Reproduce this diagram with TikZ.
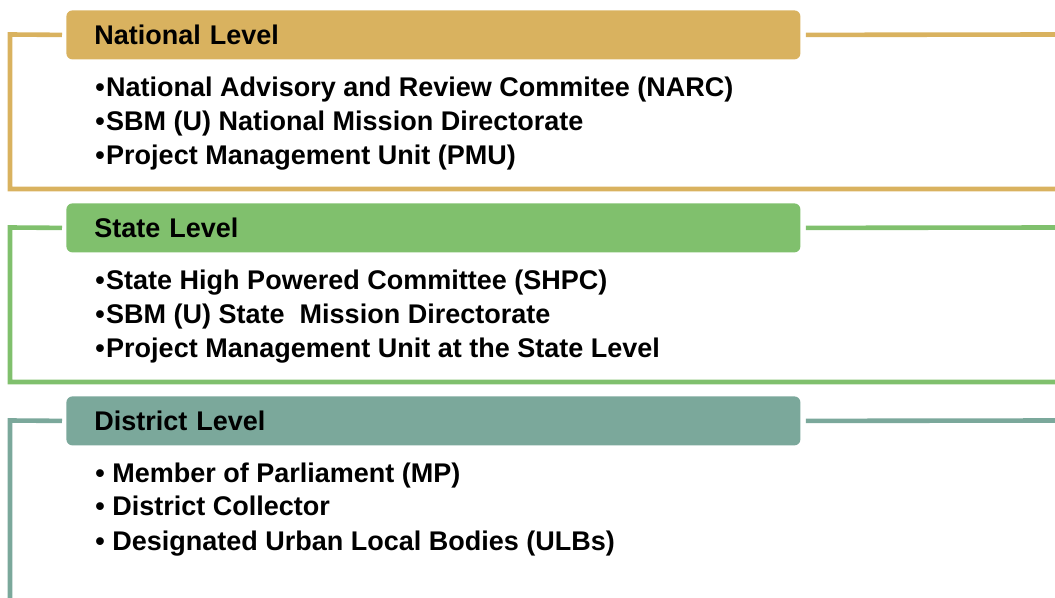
\documentclass[tikz,border=0pt]{standalone}
\usepackage{fontspec}
\setmainfont{Liberation Sans}
\usetikzlibrary{positioning}
\definecolor{natgold}{HTML}{D9B25F}
\definecolor{stgreen}{HTML}{80C06D}
\definecolor{distteal}{HTML}{7BA89B}

\begin{document}
\begin{tikzpicture}[x=0.5pt, y=-0.5pt,
    level/.style={rectangle, rounded corners=3pt, anchor=north west, minimum height=24.5pt, inner xsep=14pt, text width=339pt, align=left, font=\bfseries\fontsize{13.5}{16}\selectfont},
    item/.style={anchor=base west, inner sep=0pt, font=\bfseries\fontsize{13.5}{16}\selectfont},
    bracket/.style={line width=2.3pt}
]
    \useasboundingbox (0,0) rectangle (1055,598);

    % National level
    \node[level, fill=natgold] (natH) at (66,10) {National Level};
    \node[item] (nat1) at (95,97) {•\kern0.7pt National Advisory and Review Commitee (NARC)};
    \node[item] (nat2) at (95,131) {•\kern0.7pt SBM (U) National Mission Directorate};
    \node[item] (nat3) at (95,165) {•\kern0.7pt Project Management Unit (PMU)};
    \coordinate (natTL) at (10,34.5);
    \coordinate (natBL) at (10,189);
    \coordinate (natBR) at (1055,189);
    \coordinate (natR) at (1055,34.5);
    \draw[bracket, natgold] ([xshift=-2pt]natH.west) -- (natTL) -- (natBL) -- (natBR);
    \draw[bracket, natgold] ([xshift=2.5pt]natH.east) -- (natR);

    % State level
    \node[level, fill=stgreen] (stH) at (66,203) {State Level};
    \node[item] (st1) at (95,290) {•\kern0.7pt State High Powered Committee (SHPC)};
    \node[item] (st2) at (95,324) {•\kern0.7pt SBM (U) State\ \ Mission Directorate};
    \node[item] (st3) at (95,358) {•\kern0.7pt Project Management Unit at the State Level};
    \coordinate (stTL) at (10,227.5);
    \coordinate (stBL) at (10,382);
    \coordinate (stBR) at (1055,382);
    \coordinate (stR) at (1055,227.5);
    \draw[bracket, stgreen] ([xshift=-2pt]stH.west) -- (stTL) -- (stBL) -- (stBR);
    \draw[bracket, stgreen] ([xshift=2.5pt]stH.east) -- (stR);

    % District level
    \node[level, fill=distteal] (diH) at (66,396) {District Level};
    \node[item] (di1) at (95,482) {• Member of Parliament (MP)};
    \node[item] (di2) at (95,516) {• District Collector};
    \node[item] (di3) at (95,550) {• Designated Urban Local Bodies (ULBs)};
    \coordinate (diTL) at (10,420.5);
    \coordinate (diBL) at (10,598);
    \coordinate (diR) at (1055,420.5);
    \draw[bracket, distteal] ([xshift=-2pt]diH.west) -- (diTL) -- (diBL);
    \draw[bracket, distteal] ([xshift=2.5pt]diH.east) -- (diR);
\end{tikzpicture}
\end{document}
